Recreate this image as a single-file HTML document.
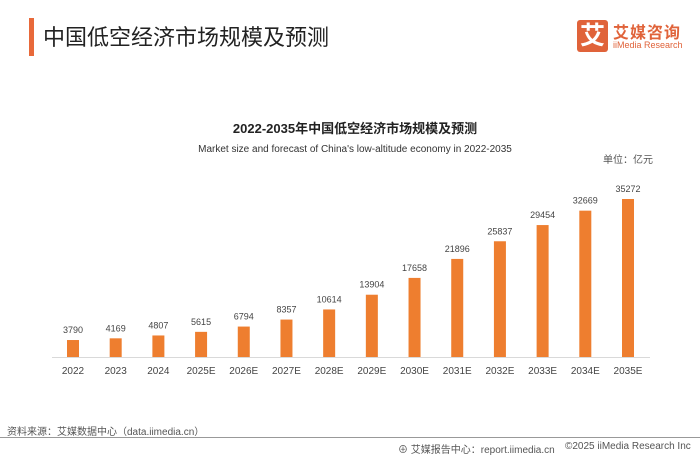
<!DOCTYPE html>
<html><head><meta charset="utf-8">
<style>
body{margin:0;width:700px;height:455px;background:#fff;position:relative;overflow:hidden;font-family:"Liberation Sans","Noto Sans CJK SC",sans-serif;}
.abs{position:absolute;white-space:nowrap;}
</style></head><body>
<div class="abs" style="left:29px;top:18px;width:5px;height:38px;background:#e8693a;"></div>
<div class="abs" style="left:43px;top:20px;font-size:22px;color:#222;">中国低空经济市场规模及预测</div>
<div class="abs" style="left:577px;top:20px;width:31px;height:32px;background:#e0633a;border-radius:3px;color:#fff;font-size:25px;line-height:32px;text-align:center;font-weight:bold;">艾</div>
<div class="abs" style="left:613px;top:19px;font-size:16px;color:#e0633a;font-weight:bold;letter-spacing:1px;">艾媒咨询</div>
<div class="abs" style="left:613px;top:40px;font-size:9px;color:#e0633a;">iiMedia Research</div>

<svg class="abs" style="left:0;top:0" width="700" height="455" id="chart">
<text x="355" y="133" text-anchor="middle" font-size="13" font-weight="bold" fill="#222">2022-2035年中国低空经济市场规模及预测</text>
<text x="355" y="152" text-anchor="middle" font-size="10" fill="#333">Market size and forecast of China's low-altitude economy in 2022-2035</text>
<text x="653" y="163" text-anchor="end" font-size="10" fill="#555">单位：亿元</text>
<line x1="52" y1="357.5" x2="650" y2="357.5" stroke="#d9d9d9" stroke-width="1"/>
<g id="bars"></g>
</svg>

<div class="abs" style="left:7px;top:423px;font-size:10px;color:#555;">资料来源：艾媒数据中心（data.iimedia.cn）</div>
<div class="abs" style="left:0;top:437px;width:700px;height:1px;background:#999;"></div>
<div class="abs" style="left:398px;top:441px;font-size:10px;color:#555;">⊕ 艾媒报告中心：report.iimedia.cn</div>
<div class="abs" style="left:565px;top:441px;font-size:10px;color:#555;">©2025  iiMedia Research Inc</div>

<script>
const categories=["2022","2023","2024","2025E","2026E","2027E","2028E","2029E","2030E","2031E","2032E","2033E","2034E","2035E"];
const values=[3790,4169,4807,5615,6794,8357,10614,13904,17658,21896,25837,29454,32669,35272];
const labels=values.map(String);
const NS="http://www.w3.org/2000/svg";
const g=document.getElementById("bars");
const x0=73, step=(628-73)/13, base=357, maxV=35272, maxH=158, bw=12;
function xs(i){return x0+i*step;}
function ys(v){return base-v/maxV*maxH;}
categories.forEach((c,i)=>{
  const cx=xs(i), top=ys(values[i]);
  const r=document.createElementNS(NS,"rect");
  r.setAttribute("x",cx-bw/2);r.setAttribute("y",top);r.setAttribute("width",bw);r.setAttribute("height",base-top);r.setAttribute("fill","#ee7e2f");
  
  
  g.appendChild(r);
  const t=document.createElementNS(NS,"text");
  t.setAttribute("x",cx);t.setAttribute("y",top-7);t.setAttribute("text-anchor","middle");t.setAttribute("font-size","9");t.setAttribute("fill","#444");
  t.textContent=labels[i];
  
  
  g.appendChild(t);
  const l=document.createElementNS(NS,"text");
  l.setAttribute("x",cx);l.setAttribute("y",374);l.setAttribute("text-anchor","middle");l.setAttribute("font-size","10");l.setAttribute("fill","#444");
  l.textContent=c;
  
  
  g.appendChild(l);
});
</script>
</body></html>
